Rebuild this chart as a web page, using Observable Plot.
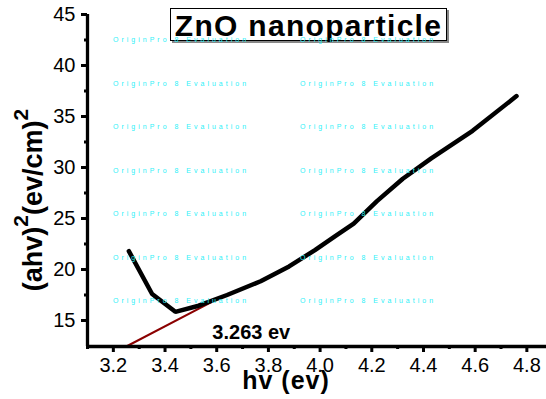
<!DOCTYPE html>
<html>
<head>
<meta charset="utf-8">
<script src="https://cdn.jsdelivr.net/npm/d3@7"></script>
<script src="https://cdn.jsdelivr.net/npm/@observablehq/plot@0.6"></script>
<style>
  body { margin: 0; background: #fff; }
  #wrap { position: relative; width: 546px; height: 399px; overflow: hidden; font-family: "Liberation Sans", Arial, sans-serif; }
  #title { position: absolute; left: 170px; top: 8px; width: 275px; height: 31px; border: 1.5px solid #000;
           box-shadow: 2px 2px 0 #888; background: #fff; font-weight: bold; font-size: 30px; letter-spacing: 1.3px;
           line-height: 33px; text-align: center; color: #000; }
  .wm { position: absolute; font-size: 7px; letter-spacing: 3px; color: #2ef0f8; white-space: nowrap; line-height: 8px; }
</style>
</head>
<body>
<div id="wrap"></div>
<script>
// Data
const hv   = [3.26, 3.35, 3.44, 3.53, 3.64, 3.77, 3.88, 3.98, 4.06, 4.13, 4.22, 4.32, 4.43, 4.59, 4.76];
const ahv2 = [21.8, 17.6, 15.85, 16.45, 17.5, 18.85, 20.3, 21.9, 23.3, 24.5, 26.7, 28.9, 30.9, 33.6, 37.0];
const tangentX = [3.25, 3.62];
const tangentY = [12.45, 17.35];
const xMajor = [3.2, 3.4, 3.6, 3.8, 4.0, 4.2, 4.4, 4.6, 4.8];
const xMinor = [3.1, 3.3, 3.5, 3.7, 3.9, 4.1, 4.3, 4.5, 4.7];
const yMajor = [15, 20, 25, 30, 35, 40, 45];
const yMinor = [17.5, 22.5, 27.5, 32.5, 37.5, 42.5];
const annotation = [{x: 3.583, y: 13.85, label: "3.263 ev"}];
const titleText = "ZnO nanoparticle";
const xLabel = "hv (ev)";
const watermark = "OriginPro 8 Evaluation";

const curve = hv.map((x, i) => ({x, y: ahv2[i]}));
const tangent = tangentX.map((x, i) => ({x, y: tangentY[i]}));
const xDom = [3.1, 4.876], yDom = [12.45, 45];

const chart = Plot.plot({
  width: 546, height: 399,
  marginLeft: 87, marginRight: 0, marginTop: 14, marginBottom: 53,
  x: {domain: xDom},
  y: {domain: yDom},
  style: {fontFamily: "Liberation Sans, Arial, sans-serif", fontSize: "20px", color: "#000", background: "transparent", overflow: "visible"},
  marks: [
    Plot.line(tangent, {x: "x", y: "y", stroke: "#8b0000", strokeWidth: 2}),
    Plot.line(curve, {x: "x", y: "y", stroke: "#000", strokeWidth: 4.5, strokeLinejoin: "miter"}),
    Plot.text(annotation, {x: "x", y: "y", text: "label", textAnchor: "start", fontWeight: "bold", fontSize: 20, letterSpacing: 0.5, fill: "#000"}),
    Plot.axisX({ticks: xMajor, tickSize: 6, tickPadding: 5, strokeWidth: 3, tickFormat: d3.format(".1f"), label: null, letterSpacing: 1}),
    Plot.axisX({ticks: xMinor, tickSize: 3, strokeWidth: 3, tickFormat: () => "", label: null}),
    Plot.axisY({ticks: yMajor, tickSize: 6, tickPadding: 6, strokeWidth: 3, tickFormat: d3.format("d"), label: null, letterSpacing: 1}),
    Plot.axisY({ticks: yMinor, tickSize: 3, strokeWidth: 3, tickFormat: () => "", label: null}),
    Plot.ruleY([yDom[0]], {stroke: "#000", strokeWidth: 3.3}),
    Plot.ruleX([xDom[0]], {stroke: "#000", strokeWidth: 3.3, y1: yDom[0], y2: yDom[1]})
  ]
});

const wrap = document.getElementById("wrap");
wrap.appendChild(chart);

const svg = d3.select(chart);
// y-axis label with superscripts
const yl = svg.append("text")
  .attr("transform", "translate(42,200) rotate(-90)")
  .attr("text-anchor", "middle")
  .style("font-weight", "bold").style("font-size", "27px").style("fill", "#000");
yl.append("tspan").text("(ahv)");
yl.append("tspan").attr("dy", -14).style("font-size", "21px").text("2");
yl.append("tspan").attr("dy", 14).text("(ev/cm)");
yl.append("tspan").attr("dy", -14).style("font-size", "21px").text("2");
// x-axis label
svg.append("text")
  .attr("x", 286).attr("y", 389)
  .attr("text-anchor", "middle")
  .style("font-weight", "bold").style("font-size", "25px").style("letter-spacing", "1px").style("fill", "#000")
  .text(xLabel);

// title box
const t = document.createElement("div");
t.id = "title"; t.textContent = titleText;
wrap.appendChild(t);

// evaluation watermark
const cols = [113, 300];
for (let r = 0; r < 7; r++) {
  for (const c of cols) {
    const w = document.createElement("div");
    w.className = "wm";
    w.style.left = c + "px";
    w.style.top = (36 + r * 43.5) + "px";
    w.textContent = watermark;
    wrap.appendChild(w);
  }
}
</script>
</body>
</html>
